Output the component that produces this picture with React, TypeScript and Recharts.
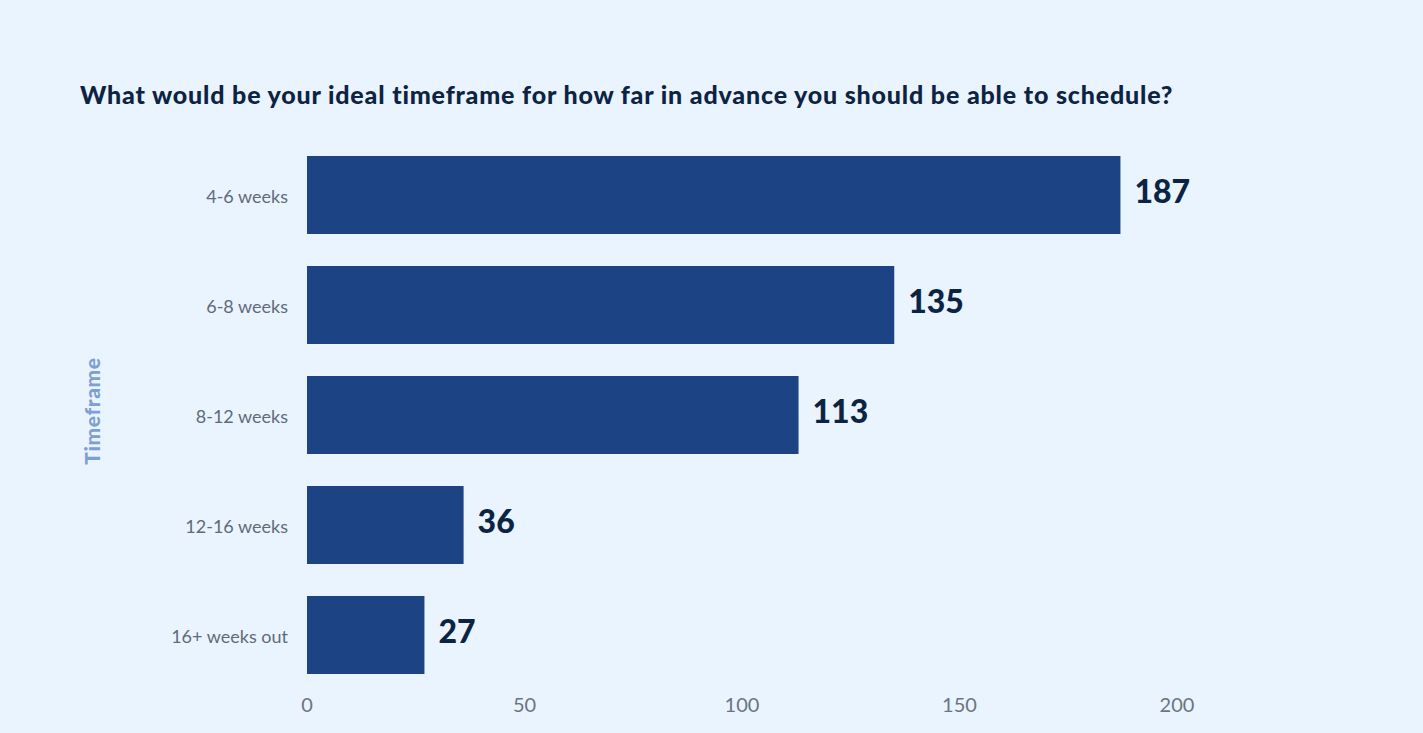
import React from 'react';
import { BarChart, Bar, XAxis, YAxis, LabelList } from 'recharts';

const categories = ['4-6 weeks', '6-8 weeks', '8-12 weeks', '12-16 weeks', '16+ weeks out'];
const responses = [187, 135, 113, 36, 27];
const xTicks = [0, 50, 100, 150, 200];

const data = categories.map((timeframe, i) => ({ timeframe, count: responses[i] }));

const FONT = 'Lato, "Open Sans", sans-serif';

const AxisTitle = (props: any) => {
  const vb = props.viewBox || {};
  const cx = 91;
  const cy = vb.y + vb.height / 2 - 4;
  return (
    <text
      x={cx}
      y={cy}
      transform={`rotate(-90, ${cx}, ${cy})`}
      textAnchor="middle"
      dominantBaseline="central"
      fill="#7C9FD6"
      fontSize={21}
      fontWeight={900}
      letterSpacing={0.6}
      fontFamily={FONT}
    >
      Timeframe
    </text>
  );
};

const App: React.FC = () => {
  return (
    <div
      style={{
        position: 'fixed',
        top: 0,
        left: 0,
        width: 1423,
        height: 733,
        background: '#EAF4FE',
        fontFamily: FONT,
      }}
    >
      <div
        style={{
          position: 'absolute',
          left: 80,
          top: 79,
          fontSize: 25,
          fontWeight: 900,
          letterSpacing: 0.82,
          color: '#0D2344',
          whiteSpace: 'nowrap',
        }}
      >
        What would be your ideal timeframe for how far in advance you should be able to schedule?
      </div>
      <div style={{ position: 'absolute', top: 0, left: 0 }}>
        <BarChart
          layout="vertical"
          width={1423}
          height={733}
          data={data}
          margin={{ top: 140, right: 246, left: 0, bottom: 0 }}
          barSize={78}
        >
          <XAxis
            type="number"
            domain={[0, 200]}
            ticks={xTicks}
            axisLine={false}
            tickLine={false}
            height={43}
            tick={{ fill: '#6B7480', fontSize: 20, fontFamily: FONT }}
          />
          <YAxis
            type="category"
            dataKey="timeframe"
            width={307}
            axisLine={false}
            tickLine={false}
            tickMargin={13}
            tick={{ fill: '#5F6B7B', fontSize: 18, fontFamily: FONT, dy: 2 }}
            label={<AxisTitle />}
          />
          <Bar dataKey="count" fill="#1C4485" isAnimationActive={false}>
            <LabelList
              dataKey="count"
              position="right"
              offset={14}
              fill="#0C2444"
              fontSize={32}
              fontWeight={900}
              fontFamily={FONT}
              dy={-3}
            />
          </Bar>
        </BarChart>
      </div>
    </div>
  );
};

export default App;
